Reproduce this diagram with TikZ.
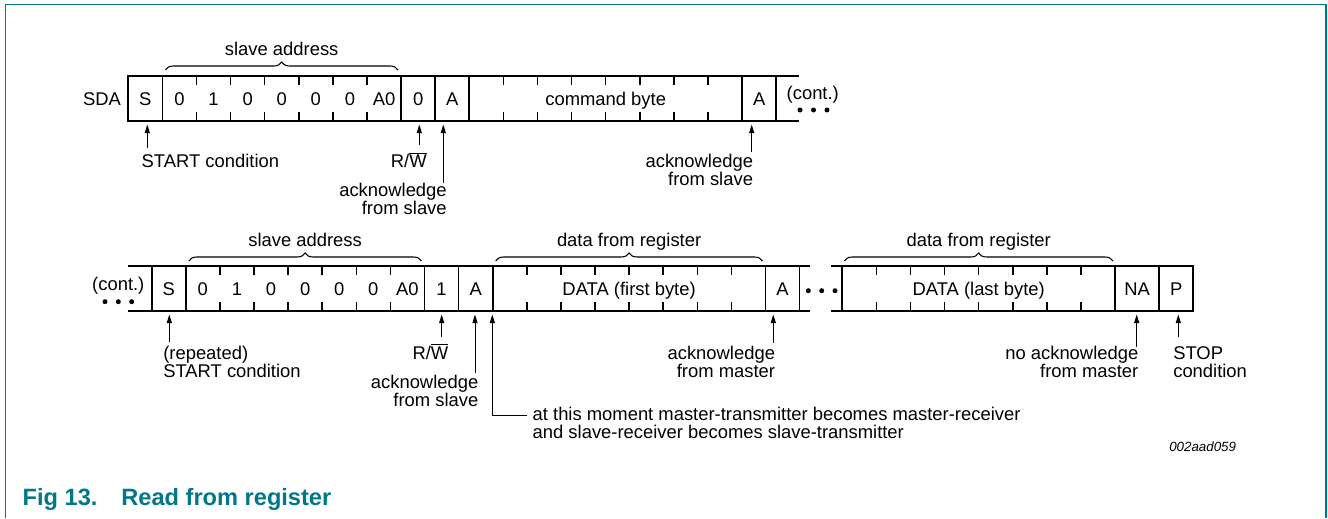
\documentclass[tikz,border=0pt]{standalone}
\usepackage{fontspec}
\setmainfont{Liberation Sans}
\usetikzlibrary{arrows.meta,decorations.pathreplacing}
\definecolor{c00788a}{RGB}{0,120,138}

\tikzset{
  lbl/.style={font=\fontsize{13.8}{13.5}\selectfont, inner sep=0pt},
  frameline/.style={draw=black, line width=1.5pt, line cap=rect},
  cellline/.style={draw=black, line width=1.3pt},
  tickline/.style={draw=black, line width=1.1pt},
  ptr/.style={draw=black, line width=0.75pt, -{Triangle[length=6.5pt,width=3.8pt]}},
  bracepath/.style={draw=black, line width=0.8pt, decorate,
    decoration={brace, amplitude=6pt}},
}

\begin{document}
\begin{tikzpicture}[y=0.75pt,x=0.75pt,yscale=-1, inner sep=0pt, outer sep=0pt]
  \useasboundingbox (0,0) rectangle (1328,518);
  \path[draw=c00788a, line width=1pt] (5.5,518) -- (5.5,4.5) -- (1326,4.5) -- (1326,518);

  % first frame: address + write + command byte
  \path[frameline] (128.3,76) -- (798.3,76) (128.3,121) -- (798.3,121);
  \foreach \k in {0,1,8,9,10,18,19}
    \path[cellline] ({128.3+\k*34.1},76) -- ({128.3+\k*34.1},121);
  \foreach \k in {2,...,7,11,12,...,17}
    \path[tickline] ({128.3+\k*34.1},76) -- ++(0,9)
      ({128.3+\k*34.1},121) -- ++(0,-9);
  \node[lbl, anchor=base east] (sda) at (121,105) {SDA};
  \node[lbl, anchor=base] (tS) at (145.35,105) {S};
  \foreach \b [count=\i] in {0,1,0,0,0,0,A0}
    \node[lbl, anchor=base] (tbit\i) at ({128.3+(\i+0.5)*34.1},105) {\b};
  \node[lbl, anchor=base] (tRW) at (418.15,105) {0};
  \node[lbl, anchor=base] (tA1) at (452.25,105) {A};
  \node[lbl, anchor=base] (tCmd) at (605.7,105) {command byte};
  \node[lbl, anchor=base] (tA2) at (759.15,105) {A};
  \node[lbl, anchor=base west] (tCont) at (786.7,99) {(cont.)};
  \foreach \x in {800,813.5,827}
    \fill (\x,110) circle (2.5);

  \path[bracepath] (165.4,70) -- (398,70);
  \node[lbl, anchor=base] (tAddr) at (281.7,55) {slave address};

  \node[lbl, anchor=base west] (lStart) at (141.7,167.3) {START condition};
  \node[lbl, anchor=base east] (lRW) at (426.7,167.3) {R/$\overline{\mbox{W}}$};
  \node[lbl, anchor=base east, align=right] (lAck1) at (446.7,214.7)
    {acknowledge\\from slave};
  \node[lbl, anchor=base east, align=right] (lAck2) at (753,185.5)
    {acknowledge\\from slave};
  \coordinate (aStart) at (147.3,148);   \coordinate (bStart) at (147.3,124.5);
  \coordinate (aRW) at (419.3,145);      \coordinate (bRW) at (419.3,124.5);
  \coordinate (aAck1) at (443.3,183);    \coordinate (bAck1) at (443.3,124.5);
  \coordinate (aAck2) at (751.7,152);    \coordinate (bAck2) at (751.7,124.5);
  \draw[ptr] (aStart) -- (bStart);
  \draw[ptr] (aRW) -- (bRW);
  \draw[ptr] (aAck1) -- (bAck1);
  \draw[ptr] (aAck2) -- (bAck2);

  % second frame: repeated start + read + data bytes
  \path[frameline] (129.3,266) -- (809.3,266) (129.3,311) -- (809.3,311);
  \path[frameline] (831.7,266) -- (1193.3,266) (831.7,311) -- (1193.3,311);
  \foreach \k in {0,1,8,9,10,18,19}
    \path[cellline] ({151.7+\k*34.1},266) -- ({151.7+\k*34.1},311);
  \foreach \k in {2,...,7,11,12,...,17}
    \path[tickline] ({151.7+\k*34.1},266) -- ++(0,9)
      ({151.7+\k*34.1},311) -- ++(0,-9);
  \foreach \x in {842.3,1115,1159.3,1193.3}
    \path[cellline] (\x,266) -- (\x,311);
  \foreach \k in {1,...,7}
    \path[tickline] ({842.3+\k*34.1},266) -- ++(0,9)
      ({842.3+\k*34.1},311) -- ++(0,-9);

  \node[lbl, anchor=base] (bCont) at (118.3,290) {(cont.)};
  \foreach \x in {105,118.3,131.7}
    \fill (\x,301.7) circle (2.5);
  \node[lbl, anchor=base] (bS) at (168.75,295) {S};
  \foreach \b [count=\i] in {0,1,0,0,0,0,A0}
    \node[lbl, anchor=base] (bbit\i) at ({151.7+(\i+0.5)*34.1},295) {\b};
  \node[lbl, anchor=base] (bRWv) at (441.55,295) {1};
  \node[lbl, anchor=base] (bA1) at (475.65,295) {A};
  \node[lbl, anchor=base] (bData1) at (629.1,295) {DATA (first byte)};
  \node[lbl, anchor=base] (bA2) at (782.55,295) {A};
  \foreach \x in {808.3,821.7,835}
    \fill (\x,290.7) circle (2.5);
  \node[lbl, anchor=base] (bData2) at (978.7,295) {DATA (last byte)};
  \node[lbl, anchor=base] (bNA) at (1137.2,295) {NA};
  \node[lbl, anchor=base] (bP) at (1176.3,295) {P};

  \path[bracepath] (188.8,261) -- (421.4,261);
  \node[lbl, anchor=base] (bAddr) at (305.1,246.5) {slave address};
  \path[bracepath] (495.7,261) -- (762.5,261);
  \node[lbl, anchor=base] (bReg1) at (629.1,246.5) {data from register};
  \path[bracepath] (844.3,261) -- (1113,261);
  \node[lbl, anchor=base] (bReg2) at (978.7,246.5) {data from register};

  \node[lbl, anchor=base west, align=left] (lRStart) at (163.3,377.3)
    {(repeated)\\START condition};
  \node[lbl, anchor=base east] (lRW2) at (448.3,359) {R/$\overline{\mbox{W}}$};
  \node[lbl, anchor=base east, align=right] (lAck3) at (478.3,406.5)
    {acknowledge\\from slave};
  \node[lbl, anchor=base east, align=right] (lAckM) at (775,377)
    {acknowledge\\from master};
  \node[lbl, anchor=base east, align=right] (lNoAck) at (1138.3,377)
    {no acknowledge\\from master};
  \node[lbl, anchor=base west, align=left] (lStop) at (1173.3,377)
    {STOP\\condition};
  \node[lbl, anchor=base west, align=left] (lSwap) at (532.7,438)
    {at this moment master-transmitter becomes master-receiver\\
     and slave-receiver becomes slave-transmitter};
  \coordinate (aRStart) at (169.3,341.7); \coordinate (bRStart) at (169.3,314.5);
  \coordinate (aRW2) at (441.7,336.7);    \coordinate (bRW2) at (441.7,314.5);
  \coordinate (aAck3) at (475,373);       \coordinate (bAck3) at (475,314.5);
  \coordinate (aSwap) at (526.7,415);     \coordinate (bSwap) at (492.3,314.5);
  \coordinate (aAckM) at (773.3,343);     \coordinate (bAckM) at (773.3,314.5);
  \coordinate (aNoAck) at (1136.7,346.7); \coordinate (bNoAck) at (1136.7,314.5);
  \coordinate (aStop) at (1178.3,336.7);  \coordinate (bStop) at (1178.3,314.5);
  \draw[ptr] (aRStart) -- (bRStart);
  \draw[ptr] (aRW2) -- (bRW2);
  \draw[ptr] (aAck3) -- (bAck3);
  \draw[ptr] (aSwap) -| (bSwap);
  \draw[ptr] (aAckM) -- (bAckM);
  \draw[ptr] (aNoAck) -- (bNoAck);
  \draw[ptr] (aStop) -- (bStop);

  \node[anchor=base east, font=\fontsize{10}{10}\selectfont\itshape] (figid)
    at (1236,451) {002aad059};
  \node[anchor=base west, font=\fontsize{17.7}{18}\selectfont\bfseries,
    text=c00788a] (figtitle) at (22.7,505)
    {Fig 13.\hspace{18pt}Read from register};
\end{tikzpicture}
\end{document}
